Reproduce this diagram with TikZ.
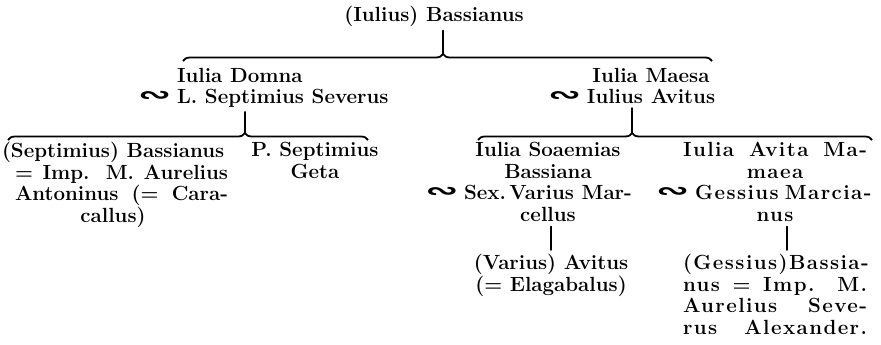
\documentclass[tikz,border=0pt]{standalone}
\usepackage{graphicx}
\usepackage{fontspec}
\setmainfont{Latin Modern Roman}
\newfontfamily\symf{DejaVu Sans}
\usetikzlibrary{decorations.pathreplacing}
\newcommand{\mrg}{\llap{\raisebox{1pt}{\scalebox{1.9}[1.1]{\symf\bfseries ∾}}\hspace{6pt}}}
\newcommand{\jl}[1]{\makebox[184pt][s]{#1}}
\newcommand{\jm}[1]{\hspace{13pt}\makebox[213pt][s]{#1}}
\begin{document}
\begin{tikzpicture}[x=1pt,y=1pt,
  person/.style={inner sep=0pt, outer sep=0pt, align=center,
    font=\fontsize{20.5}{21.7}\selectfont\bfseries},
  wide/.style={font=\fontsize{20.5}{21.7}\selectfont\bfseries\addfontfeature{LetterSpace=7}},
  conn/.style={line width=1.5pt, line cap=round},
  brc/.style={line width=1.8pt, decorate}]
\useasboundingbox (0,0) rectangle (881,-345);

% people
\node[person, anchor=north] (root) at (434,-6) {(Iulius) Bassianus};
\node[person, anchor=north west, align=left] (domna) at (177,-68)
  {Iulia Domna\\\mrg L. Septimius Severus};
\node[person, anchor=north] (maesa) at (651,-68)
  {Iulia Maesa\\\mrg Iulius Avitus};
\node[person, anchor=north west, align=left] (caracalla) at (2,-142)
  {(Septimius) Bassianus\\\jm{= Imp. M. Aurelius}\\\jm{Antoninus (= Cara-}\\\makebox[222pt][c]{callus)}};
\node[person, anchor=north] (geta) at (315,-142) {P. Septimius\\Geta};
\node[person, anchor=north] (soaemias) at (548,-142)
  {Iulia Soaemias\\Bassiana\\\mrg Sex.\,Varius Mar-\\cellus};
\node[person, wide, anchor=north] (mamaea) at (775,-142)
  {\jl{Iulia Avita Ma-}\\maea\\\makebox[184pt][r]{\makebox[172pt][s]{\mrg Gessius Marcia-}}\\nus};
\node[person, wide, anchor=north, align=left] (alexander) at (775,-254)
  {\jl{(Gessius)Bassia-}\\\jl{nus = Imp. M.}\\\jl{Aurelius Seve-}\\\jl{rus Alexander.}};
\node[person, anchor=north] (elagabalus) at (551,-254)
  {(Varius) Avitus\\(= Elagabalus)};

% brace ends and cusps
\coordinate (b1l) at (183,-61);
\coordinate (b1r) at (712,-61);
\coordinate (c1) at (443,-54);
\coordinate (b2l) at (8,-140);
\coordinate (b2r) at (368,-140);
\coordinate (c2) at (245,-133);
\coordinate (b3l) at (478,-140);
\coordinate (b3r) at (872,-140);
\coordinate (c3) at (632,-133);
\coordinate (v4) at (551,0);
\coordinate (v5) at (787,0);

% braces
\draw[brc, decoration={brace, amplitude=7pt, aspect=0.4915}] (b1l) -- (b1r);
\draw[brc, decoration={brace, amplitude=7pt, aspect=0.658}] (b2l) -- (b2r);
\draw[brc, decoration={brace, amplitude=7pt, aspect=0.391}] (b3l) -- (b3r);

% descent lines
\draw[conn, shorten <=4pt] (root.south -| c1) -- (c1);
\draw[conn, shorten <=4pt] (domna.south -| c2) -- (c2);
\draw[conn, shorten <=4pt] (maesa.south -| c3) -- (c3);
\draw[conn, shorten <=5pt, shorten >=4pt] (soaemias.south -| v4) -- (elagabalus.north -| v4);
\draw[conn, shorten <=5pt, shorten >=4pt] (mamaea.south -| v5) -- (alexander.north -| v5);
\end{tikzpicture}
\end{document}
